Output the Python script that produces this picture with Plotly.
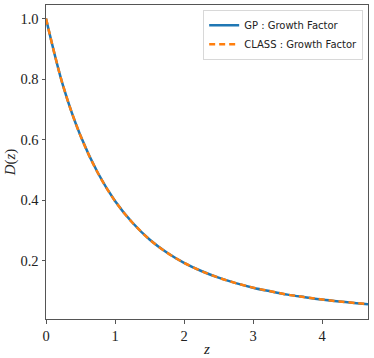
import plotly.graph_objects as go

z_gp = [0.0, 0.25, 0.5, 0.75, 1.0, 1.25, 1.5, 1.75, 2.0, 2.25, 2.5, 2.75, 3.0, 3.25, 3.5, 3.75, 4.0, 4.25, 4.5, 4.665]
d_gp = [1.0, 0.776, 0.613, 0.491, 0.398, 0.327, 0.271, 0.228, 0.194, 0.167, 0.145, 0.127, 0.112, 0.100,
        0.089, 0.0807, 0.073, 0.0666, 0.0609, 0.0576]
z_class = z_gp
d_class = d_gp

x_ticks = [0, 1, 2, 3, 4]
y_ticks = [0.2, 0.4, 0.6, 0.8, 1.0]

fig = go.Figure()
fig.add_trace(go.Scatter(x=z_gp, y=d_gp, mode="lines", name="GP : Growth Factor",
                         line=dict(color="#1f77b4", width=2.5, shape="spline")))
fig.add_trace(go.Scatter(x=z_class, y=d_class, mode="lines", name="CLASS : Growth Factor",
                         line=dict(color="#ff7f0e", width=2.5, dash="6px,4px", shape="spline")))

serif = "Liberation Serif"
fig.update_layout(
    width=374, height=358,
    margin=dict(l=46, r=6, t=5, b=39),
    paper_bgcolor="white", plot_bgcolor="white",
    showlegend=True,
    legend=dict(x=0.985, y=0.985, xanchor="right", yanchor="top",
                bgcolor="rgba(255,255,255,0.8)", bordercolor="#d8d8d8", borderwidth=1,
                font=dict(family="DejaVu Sans", size=10, color="#222"),
                itemwidth=30, tracegroupgap=0),
    xaxis=dict(range=[0, 4.665], tickvals=x_ticks, ticktext=[str(v) for v in x_ticks],
               automargin=False,
               showgrid=False, zeroline=False, showline=True, linecolor="#555", linewidth=1,
               mirror=True, ticks="outside", ticklen=3.5, tickcolor="#555",
               tickfont=dict(family=serif, size=14.5, color="#222"),
               title=dict(text="<i>z</i>", font=dict(family=serif, size=15, color="#222"), standoff=0)),
    yaxis=dict(range=[0.0086, 1.0445], tickvals=y_ticks, ticktext=["0.2", "0.4", "0.6", "0.8", "1.0"],
               automargin=False,
               showgrid=False, zeroline=False, showline=True, linecolor="#555", linewidth=1,
               mirror=True, ticks="outside", ticklen=3.5, tickcolor="#555",
               tickfont=dict(family=serif, size=14.5, color="#222"),
               title=dict(text="<i>D</i>(<i>z</i>)", font=dict(family=serif, size=15, color="#222"), standoff=1)),
)

fig.write_html("out.html", config={"displayModeBar": False},
               post_script="document.body.style.margin='0';document.body.style.padding='0';")
